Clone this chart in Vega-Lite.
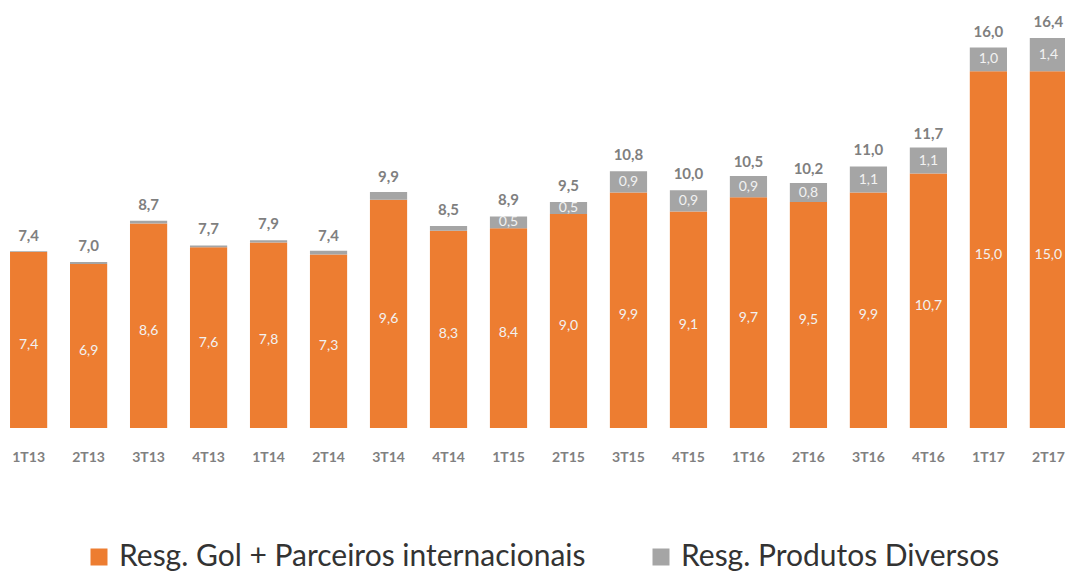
{
  "$schema": "https://vega.github.io/schema/vega-lite/v6.json",
  "width": 1077,
  "height": 428,
  "autosize": {"type": "none"},
  "padding": {"left": 0, "top": 0, "right": 0, "bottom": 144},
  "config": {
    "view": {"stroke": null},
    "font": "Lato",
    "locale": {"number": {"decimal": ",", "thousands": ".", "grouping": [3], "currency": ["R$", ""]}}
  },
  "data": {
    "values": [
      {"q": "1T13", "gol": 7.4, "div": 0.03, "total": 7.4},
      {"q": "2T13", "gol": 6.9, "div": 0.08, "total": 7.0},
      {"q": "3T13", "gol": 8.6, "div": 0.12, "total": 8.7},
      {"q": "4T13", "gol": 7.6, "div": 0.08, "total": 7.7},
      {"q": "1T14", "gol": 7.8, "div": 0.1, "total": 7.9},
      {"q": "2T14", "gol": 7.3, "div": 0.15, "total": 7.4},
      {"q": "3T14", "gol": 9.6, "div": 0.32, "total": 9.9},
      {"q": "4T14", "gol": 8.3, "div": 0.2, "total": 8.5},
      {"q": "1T15", "gol": 8.4, "div": 0.5, "total": 8.9},
      {"q": "2T15", "gol": 9.0, "div": 0.5, "total": 9.5},
      {"q": "3T15", "gol": 9.9, "div": 0.9, "total": 10.8},
      {"q": "4T15", "gol": 9.1, "div": 0.9, "total": 10.0},
      {"q": "1T16", "gol": 9.7, "div": 0.9, "total": 10.5},
      {"q": "2T16", "gol": 9.5, "div": 0.8, "total": 10.2},
      {"q": "3T16", "gol": 9.9, "div": 1.1, "total": 11.0},
      {"q": "4T16", "gol": 10.7, "div": 1.1, "total": 11.7},
      {"q": "1T17", "gol": 15.0, "div": 1.0, "total": 16.0},
      {"q": "2T17", "gol": 15.0, "div": 1.4, "total": 16.4}
    ]
  },
  "encoding": {
    "x": {
      "field": "q", "type": "nominal", "sort": null,
      "scale": {"paddingInner": 0.38, "paddingOuter": 0.167},
      "axis": {
        "title": null, "domain": false, "ticks": false, "labelAngle": 0,
        "labelPadding": 22, "labelFontSize": 14, "labelFontWeight": "bold",
        "labelColor": "#808080", "labelFont": "Lato"
      }
    }
  },
  "layer": [
    {
      "transform": [{"fold": ["gol", "div"], "as": ["serie", "valor"]}],
      "mark": {"type": "bar"},
      "encoding": {
        "y": {"field": "valor", "type": "quantitative", "stack": "zero", "scale": {"domain": [0, 17.9]}, "axis": null},
        "color": {
          "field": "serie", "type": "nominal",
          "scale": {"domain": ["gol", "div"], "range": ["#ED7D31", "#A5A5A5"]},
          "legend": {
            "title": null, "orient": "none", "legendX": 84, "legendY": 542,
            "direction": "horizontal", "symbolType": "square", "symbolSize": 289,
            "symbolStrokeWidth": 0, "labelFontSize": 30, "labelColor": "#333333",
            "labelFont": "Lato", "labelOffset": 5, "columnPadding": 60, "labelLimit": 600,
            "labelExpr": "datum.value == 'gol' ? 'Resg. Gol + Parceiros internacionais' : 'Resg. Produtos Diversos'"
          }
        },
        "order": {"field": "serie", "sort": "descending"}
      }
    },
    {
      "mark": {"type": "text", "baseline": "bottom", "dy": -8, "fontSize": 15, "fontWeight": "bold", "color": "#7F7F7F"},
      "encoding": {
        "y": {"field": "total", "type": "quantitative"},
        "text": {"field": "total", "type": "quantitative", "format": ".1f"}
      }
    },
    {
      "transform": [{"calculate": "datum.gol / 2", "as": "mid"}],
      "mark": {"type": "text", "baseline": "middle", "dy": 5, "fontSize": 14, "color": "#F2F2F2"},
      "encoding": {
        "y": {"field": "mid", "type": "quantitative"},
        "text": {"field": "gol", "type": "quantitative", "format": ".1f"}
      }
    },
    {
      "transform": [{"filter": "datum.div >= 0.5"}, {"calculate": "datum.gol + datum.div / 2", "as": "mid2"}],
      "mark": {"type": "text", "baseline": "middle", "fontSize": 14, "color": "#F2F2F2"},
      "encoding": {
        "y": {"field": "mid2", "type": "quantitative"},
        "text": {"field": "div", "type": "quantitative", "format": ".1f"}
      }
    }
  ]
}
